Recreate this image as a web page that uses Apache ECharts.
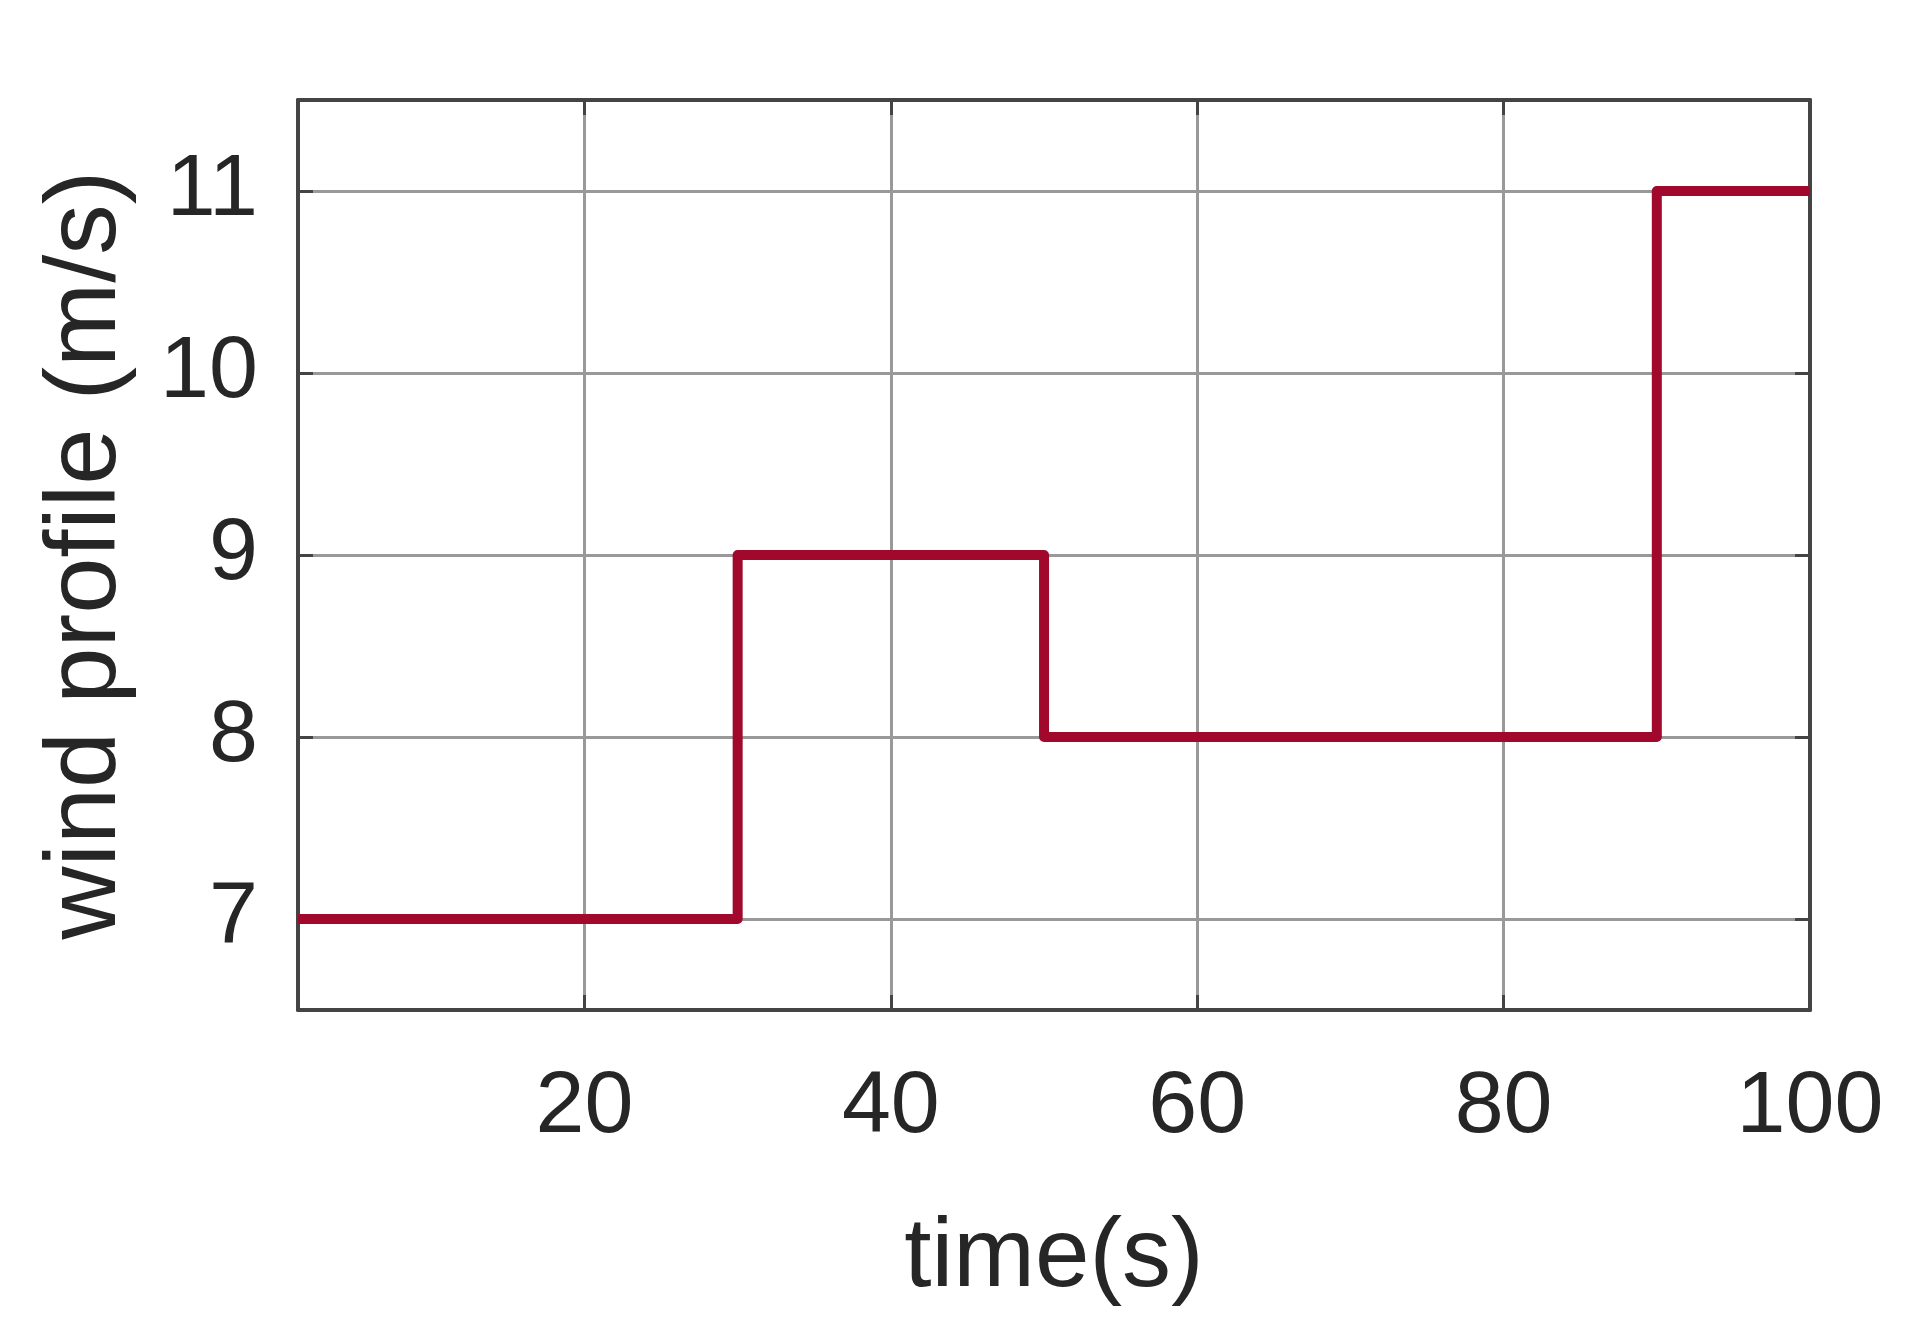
<!DOCTYPE html>
<html>
<head>
<meta charset="utf-8">
<script src="https://cdn.jsdelivr.net/npm/echarts@6/dist/echarts.min.js"></script>
<style>
	html, body { margin: 0; padding: 0; background: #fff; }
	#chart { width: 1914px; height: 1341px; }
</style>
</head>
<body>
<div id="chart"></div>
<script>
// step changes of the wind profile
const stepTimes = [1.3, 30, 50, 90, 100];
const windSpeed = [7, 9, 8, 11, 11];
const xTicks = [20, 40, 60, 80, 100];
const yTicks = [7, 8, 9, 10, 11];

const textColor = "#262626";
const frameColor = "#444";
const font = "Liberation Sans";

const chart = echarts.init(document.getElementById("chart"));

const frameLine = { show: true, onZero: false, lineStyle: { color: frameColor, width: 4, cap: "round", join: "round" } };
const innerTick = (vals) => ({ show: true, inside: true, length: 15, customValues: vals, lineStyle: { color: frameColor, width: 3 } });

chart.setOption({
	animation: false,
	grid: { left: 298, right: 104, top: 100, bottom: 331 },
	xAxis: [
		{
			type: "value",
			min: 1.3,
			max: 100,
			name: "time(s)",
			nameLocation: "middle",
			nameGap: 200,
			nameTextStyle: { fontFamily: font, fontSize: 98, color: textColor },
			axisLine: frameLine,
			axisTick: innerTick(xTicks),
			axisLabel: { customValues: xTicks, fontFamily: font, fontSize: 88, color: textColor, margin: 54 },
			splitLine: { show: true, lineStyle: { color: "#999", width: 3 } }
		},
		{
			type: "value",
			position: "top",
			min: 1.3,
			max: 100,
			axisLine: frameLine,
			axisTick: innerTick(xTicks),
			axisLabel: { show: false },
			splitLine: { show: false }
		}
	],
	yAxis: [
		{
			type: "value",
			min: 6.5,
			max: 11.5,
			name: "wind profile (m/s)",
			nameLocation: "middle",
			nameGap: 160,
			nameTextStyle: { fontFamily: font, fontSize: 101, color: textColor },
			axisLine: frameLine,
			axisTick: innerTick(yTicks),
			axisLabel: { customValues: yTicks, fontFamily: font, fontSize: 88, color: textColor, margin: 40 },
			splitLine: { show: true, lineStyle: { color: "#999", width: 3 } }
		},
		{
			type: "value",
			position: "right",
			min: 6.5,
			max: 11.5,
			axisLine: frameLine,
			axisTick: innerTick(yTicks),
			axisLabel: { show: false },
			splitLine: { show: false }
		}
	],
	series: [
		{
			type: "line",
			step: "end",
			showSymbol: false,
			lineStyle: { color: "#a0092b", width: 10, join: "round" },
			data: stepTimes.map((t, i) => [t, windSpeed[i]])
		}
	]
});
</script>
</body>
</html>
